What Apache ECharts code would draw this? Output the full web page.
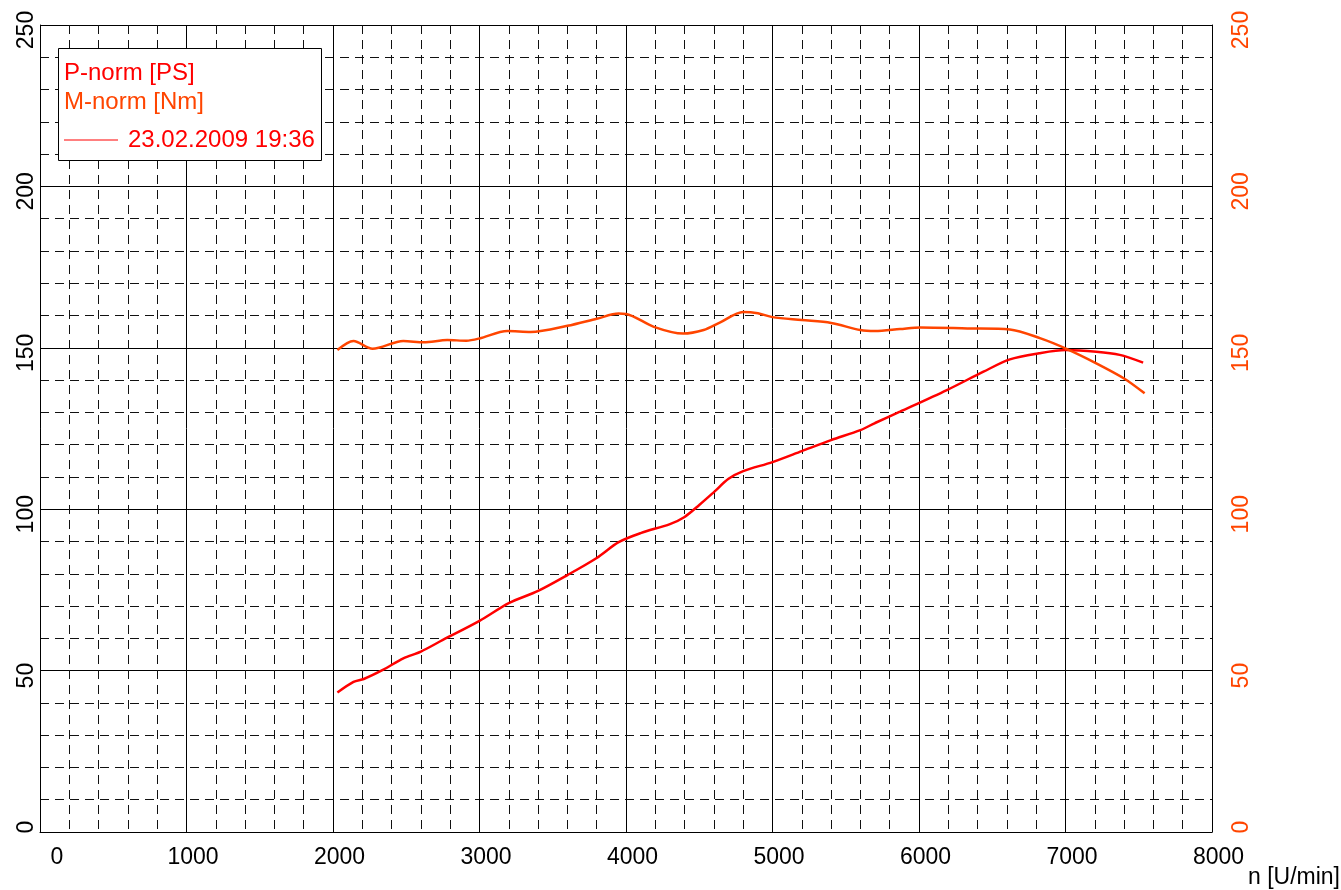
<!DOCTYPE html>
<html>
<head>
<meta charset="utf-8">
<title>P-norm / M-norm</title>
<script src="https://cdn.jsdelivr.net/npm/echarts@6/dist/echarts.min.js"></script>
<style>
  html, body { margin: 0; padding: 0; background: #fff; }
  #chart { width: 1341px; height: 890px; }
</style>
</head>
<body>
<div id="chart"></div>
<script>
  // Leistung (rot) und Drehmoment (orange) über Drehzahl
  var pRpm = [2030, 2140, 2210, 2340, 2480, 2600, 2750, 3000, 3200, 3400, 3600, 3800, 3950, 4100, 4300, 4400, 4500, 4600, 4700, 4800, 5000, 5200, 5400, 5600, 5700, 5870, 6190, 6440, 6620, 6820, 7000, 7210, 7370, 7530];
  var pPower = [43.2, 46.5, 47.4, 50.2, 53.8, 55.9, 59.5, 65.4, 70.9, 74.7, 79.6, 84.9, 89.8, 92.6, 95.4, 97.6, 101.3, 105.3, 109.4, 111.8, 114.6, 118.0, 121.4, 124.5, 126.7, 130.2, 136.9, 142.6, 146.4, 148.3, 149.3, 148.8, 147.8, 145.4];

  var mRpm = [2030, 2140, 2270, 2480, 2620, 2780, 2910, 3000, 3190, 3350, 3600, 3800, 3950, 4000, 4190, 4390, 4530, 4640, 4800, 4900, 5000, 5200, 5400, 5600, 5700, 5870, 6010, 6330, 6620, 6830, 7010, 7210, 7400, 7540];
  var mTorque = [149.3, 152.1, 149.7, 152.1, 151.7, 152.4, 152.2, 152.9, 155.2, 154.9, 156.8, 159.0, 160.6, 160.5, 156.5, 154.4, 155.5, 157.8, 161.1, 160.7, 159.5, 158.6, 157.7, 155.5, 155.2, 155.8, 156.3, 156.0, 155.7, 152.9, 149.6, 145.2, 140.5, 135.9];

  var legendNames = ['P-norm [PS]', 'M-norm [Nm]'];
  var runLabel = '23.02.2009 19:36';
  var xName = 'n [U/min]';

  var RED = '#FF0000', ORANGE = '#FF4500';
  var FONT = 'Liberation Sans, Arial, sans-serif';

  function pairs(xs, ys) {
    return xs.map(function (x, i) { return [x, ys[i]]; });
  }

  var majorLine = { color: '#000', width: 1, type: 'solid' };
  var minorLine = { color: '#111', width: 1, type: [9, 6] };

  function yLabel(color, margin) {
    return {
      show: true,
      rotate: 90,
      margin: margin,
      fontFamily: FONT,
      fontSize: 23,
      color: color,
      formatter: function (v) { return v === 0 ? '{z|0}' : '{a|' + v + '}'; },
      rich: {
        a: { fontFamily: FONT, fontSize: 23, color: color, padding: [0, 10, 0, 0] },
        z: { fontFamily: FONT, fontSize: 23, color: color, padding: [0, 0, 0, 10] }
      }
    };
  }

  var chart = echarts.init(document.getElementById('chart'));
  chart.setOption({
    animation: false,
    backgroundColor: '#fff',
    grid: { left: 40, right: 129, top: 25, bottom: 58, containLabel: false },
    xAxis: {
      type: 'value',
      min: 0, max: 8000, interval: 1000,
      axisLine: { show: true, lineStyle: { color: '#000', width: 1 } },
      axisTick: { show: false },
      minorTick: { show: false, splitNumber: 5 },
      splitLine: { show: true, lineStyle: majorLine },
      minorSplitLine: { show: true, lineStyle: minorLine },
      axisLabel: {
        margin: 14,
        fontFamily: FONT, fontSize: 23, color: '#000',
        formatter: function (v) { return v === 0 ? '{z|0}' : '{a|' + v + '}'; },
        rich: {
          a: { fontFamily: FONT, fontSize: 23, color: '#000', padding: [0, 0, 0, 13] },
          z: { fontFamily: FONT, fontSize: 23, color: '#000', padding: [0, 0, 0, 34] }
        }
      }
    },
    yAxis: [{
      type: 'value',
      position: 'left',
      min: 0, max: 250, interval: 50,
      axisLine: { show: true, lineStyle: { color: '#000', width: 1 } },
      axisTick: { show: false },
      minorTick: { show: false, splitNumber: 5 },
      splitLine: { show: true, lineStyle: majorLine },
      minorSplitLine: { show: true, lineStyle: minorLine },
      axisLabel: yLabel('#000', 2)
    }, {
      type: 'value',
      position: 'right',
      min: 0, max: 250, interval: 50,
      axisLine: { show: true, lineStyle: { color: '#000', width: 1 } },
      axisTick: { show: false },
      splitLine: { show: false },
      axisLabel: yLabel(ORANGE, 18)
    }],
    series: [{
      name: legendNames[0],
      type: 'line',
      yAxisIndex: 0,
      smooth: 0.3,
      symbol: 'none',
      lineStyle: { color: RED, width: 2.5 },
      data: pairs(pRpm, pPower),
      z: 3
    }, {
      name: legendNames[1],
      type: 'line',
      yAxisIndex: 1,
      smooth: 0.3,
      symbol: 'none',
      lineStyle: { color: ORANGE, width: 2.5 },
      data: pairs(mRpm, mTorque),
      z: 4
    }],
    graphic: [{
      type: 'rect',
      left: 58, top: 48, z: 100,
      shape: { width: 263, height: 112 },
      style: { fill: '#fff', stroke: '#000', lineWidth: 1 }
    }, {
      type: 'text',
      x: 64, y: 73, z: 101,
      style: { text: legendNames[0], fill: RED, font: '24px ' + FONT, verticalAlign: 'middle' }
    }, {
      type: 'text',
      x: 64, y: 102, z: 101,
      style: { text: legendNames[1], fill: ORANGE, font: '24px ' + FONT, verticalAlign: 'middle' }
    }, {
      type: 'line',
      z: 101,
      shape: { x1: 64, y1: 140, x2: 118, y2: 140 },
      style: { stroke: RED, lineWidth: 1 }
    }, {
      type: 'text',
      x: 128, y: 140, z: 101,
      style: { text: runLabel, fill: RED, font: '24px ' + FONT, verticalAlign: 'middle' }
    }, {
      type: 'text',
      right: 1, top: 866,
      style: { text: xName, fill: '#000', font: '23px ' + FONT }
    }]
  });
</script>
</body>
</html>
